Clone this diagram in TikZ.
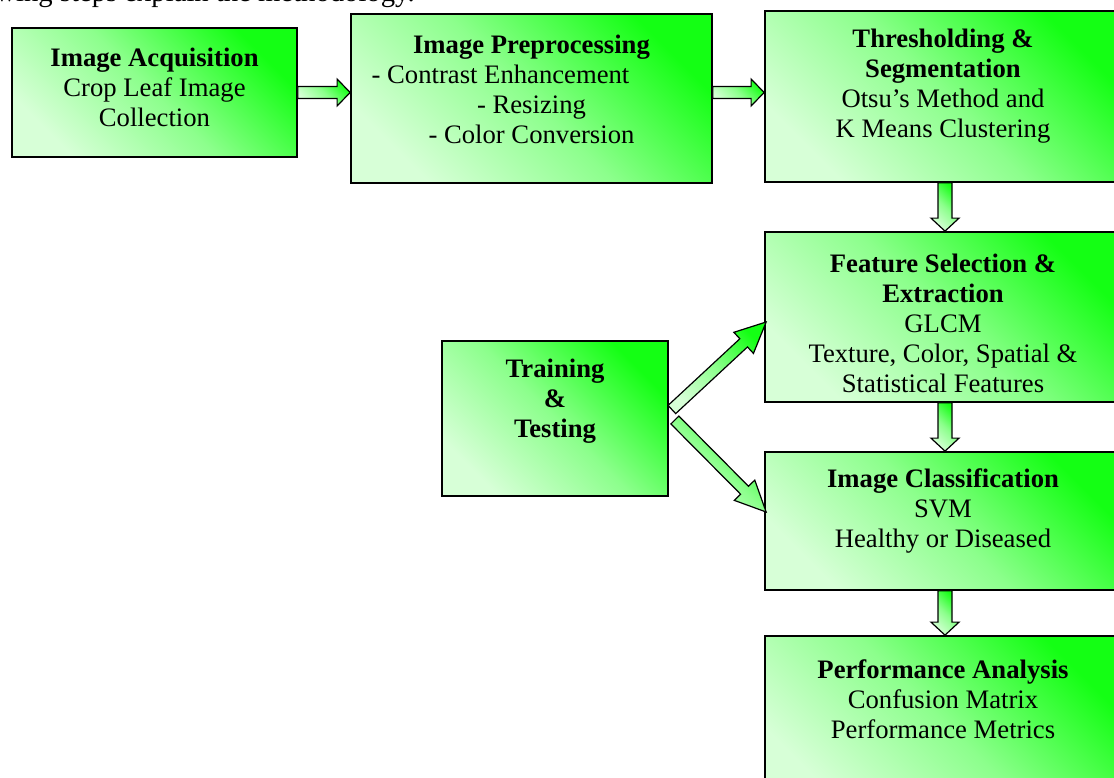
\documentclass[tikz,border=0pt]{standalone}
\usepackage{fontspec}
\setmainfont{Liberation Serif}
\usetikzlibrary{calc}
\definecolor{gtop}{RGB}{20,255,20}
\definecolor{gmid}{RGB}{140,255,140}
\definecolor{gbot}{RGB}{215,255,215}
\tikzset{
  grad/.style={top color=gtop, bottom color=gbot, middle color=gmid, shading angle=-45},
  box/.style={grad, draw=black, line width=1.3pt, inner sep=0pt, rectangle},
  lbl/.style={align=center, inner sep=0pt, font=\fontsize{20}{22.5}\selectfont},
  barrow/.style={grad, draw=black, line width=0.9pt, line join=miter},
}
% from, to, shaft half width, head half width, head length
\newcommand{\blockarr}[5]{%
  \coordinate (#1-#2-b) at ($(#2)!#5!(#1)$);
  \draw[barrow] ($(#1)!#3!90:(#2)$) -- ($(#1-#2-b)!#3!90:(#2)$)
    -- ($(#1-#2-b)!#4!90:(#2)$) -- (#2)
    -- ($(#1-#2-b)!#4!-90:(#2)$) -- ($(#1-#2-b)!#3!-90:(#2)$)
    -- ($(#1)!#3!-90:(#2)$) -- cycle;
}
\begin{document}
\begin{tikzpicture}[x=0.75pt, y=-0.75pt]
\useasboundingbox (0,0) rectangle (1114,778);
\clip (0,0) rectangle (1114,778);

\node[inner sep=0pt, font=\fontsize{21.5}{24}\selectfont, anchor=base east] (intro) at (415,1.5) {wing steps explain the methodology.};

% boxes
\node[box, minimum width=285*0.75pt, minimum height=129*0.75pt] (A) at (154.5,92.5) {};
\node[box, minimum width=361*0.75pt, minimum height=169*0.75pt] (B) at (531.5,98.5) {};
\node[box, minimum width=356*0.75pt, minimum height=171*0.75pt] (C) at (943,96.5) {};
\node[box, minimum width=356*0.75pt, minimum height=170*0.75pt] (D) at (943,317) {};
\node[box, minimum width=356*0.75pt, minimum height=138*0.75pt] (E) at (943,521) {};
\node[box, minimum width=356*0.75pt, minimum height=170*0.75pt] (F) at (943,721) {};
\node[box, minimum width=226*0.75pt, minimum height=155*0.75pt] (G) at (555,418.5) {};

% labels
\node[lbl] (Al) at (154.5,87) {\textbf{Image Acquisition}\\Crop Leaf Image\\Collection};
\node[lbl] (Bl) at (531.5,89) {\textbf{Image Preprocessing}\\\hbox{- Contrast Enhancement\kern46.5pt}\\- Resizing\\- Color Conversion};
\node[lbl] (Cl) at (943,86) {\textbf{Thresholding \&}\\\textbf{Segmentation}\\Otsu’s Method and\\K Means Clustering};
\node[lbl] (Dl) at (943,323) {\textbf{Feature Selection \&}\\\textbf{Extraction}\\GLCM\\Texture, Color, Spatial \&\\Statistical Features};
\node[lbl] (El) at (943,511) {\textbf{Image Classification}\\SVM\\Healthy or Diseased};
\node[lbl] (Fl) at (943,699) {\textbf{Performance Analysis}\\Confusion Matrix\\Performance Metrics};
\node[lbl] (Gl) at (555,401) {\textbf{Training}\\\textbf{\&}\\\textbf{Testing}};

% connector end points
\coordinate (ab1) at (A.east);
\coordinate (ab2) at (A.east -| B.west);
\coordinate (bc1) at (A.east -| B.east);
\coordinate (bc2) at (A.east -| C.west);
\coordinate (cd1) at ($(C.south)+(2,0)$);
\coordinate (cd2) at ($(D.north)+(2,0)$);
\coordinate (de1) at ($(D.south)+(2,0)$);
\coordinate (de2) at ($(E.north)+(2,0)$);
\coordinate (ef1) at ($(E.south)+(2,0)$);
\coordinate (ef2) at ($(F.north)+(2,0)$);
\coordinate (gd1) at ($(G.east)+(3,-9)$);
\coordinate (gd2) at ($(D.west)+(2,5)$);
\coordinate (ge1) at ($(G.east)+(6,1.5)$);
\coordinate (ge2) at ($(E.west)+(2,-9)$);

\blockarr{ab1}{ab2}{4.5pt}{10.1pt}{9.75pt}
\blockarr{bc1}{bc2}{4.5pt}{10.1pt}{9.75pt}
\blockarr{cd1}{cd2}{5.25pt}{10.5pt}{9.75pt}
\blockarr{de1}{de2}{5.25pt}{10.5pt}{9.75pt}
\blockarr{ef1}{ef2}{5.25pt}{10.5pt}{9.75pt}
\blockarr{gd1}{gd2}{4.2pt}{10.8pt}{23pt}
\blockarr{ge1}{ge2}{4.2pt}{10.8pt}{23pt}
\end{tikzpicture}
\end{document}
